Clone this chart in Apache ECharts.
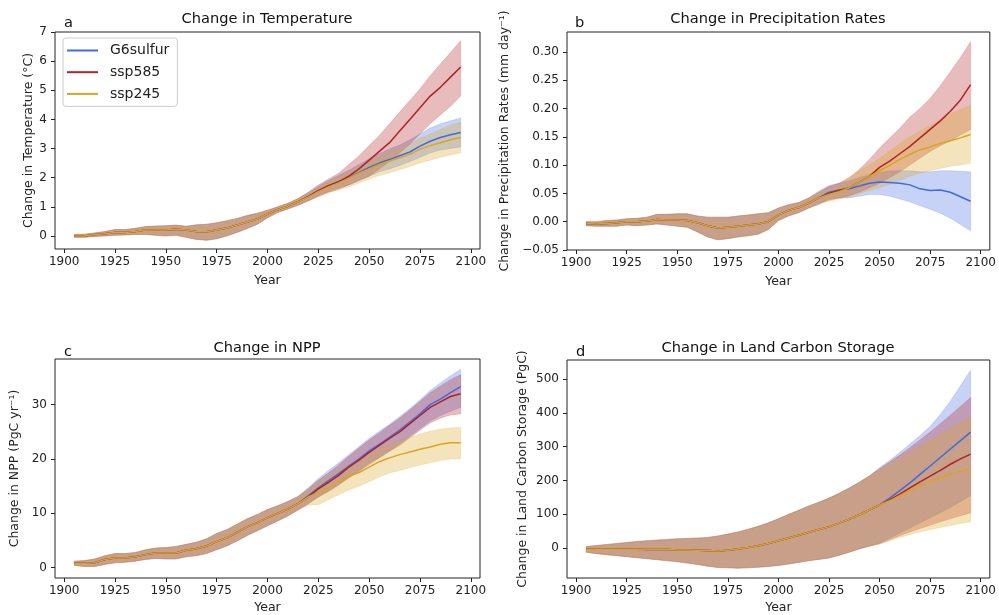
<!DOCTYPE html>
<html>
<head>
<meta charset="utf-8">
<script src="https://cdn.jsdelivr.net/npm/echarts@6/dist/echarts.min.js"></script>
<style>html,body{margin:0;padding:0;background:#fff}#c{width:999px;height:615px}</style>
</head>
<body>
<div id="c"></div>
<script>
// ---------- DATA ----------
const histYears = [1905,1910,1915,1920,1925,1930,1935,1940,1945,1950,1955,1960,1965,1970,1975,1980,1985,1990,1995,2000,2005,2010,2015];
const futYears  = [2015,2020,2025,2030,2035,2040,2045,2050,2055,2060,2065,2070,2075,2080,2085,2090,2095];
const xTicks = [1900,1925,1950,1975,2000,2025,2050,2075,2100];

// a: Temperature
const tempHistMean = [0.0,0.0,0.05,0.07,0.12,0.12,0.15,0.2,0.2,0.2,0.23,0.2,0.15,0.14,0.2,0.27,0.37,0.48,0.58,0.75,0.9,1.02,1.17];
const tempHistLo   = [-0.05,-0.05,-0.02,0.0,0.02,0.03,0.05,0.05,0.02,0.0,0.02,-0.05,-0.12,-0.15,-0.1,0.0,0.12,0.25,0.4,0.62,0.8,0.92,1.05];
const tempHistHi   = [0.05,0.06,0.1,0.15,0.22,0.22,0.26,0.32,0.34,0.35,0.37,0.33,0.38,0.4,0.45,0.52,0.6,0.7,0.78,0.88,1.0,1.12,1.28];
const tempG6Mean  = [1.17,1.35,1.55,1.72,1.87,2.0,2.18,2.35,2.5,2.62,2.75,2.88,3.08,3.25,3.38,3.47,3.55];
const tempG6Lo    = [1.05,1.2,1.38,1.52,1.65,1.75,1.9,2.05,2.2,2.3,2.42,2.55,2.7,2.85,2.95,3.0,3.05];
const tempG6Hi    = [1.28,1.48,1.7,1.9,2.08,2.25,2.45,2.65,2.82,2.98,3.12,3.3,3.5,3.7,3.85,3.95,4.05];
const temp585Mean = [1.17,1.35,1.55,1.72,1.85,2.05,2.3,2.6,2.9,3.2,3.6,4.0,4.4,4.8,5.1,5.45,5.8];
const temp585Lo   = [1.05,1.2,1.35,1.5,1.6,1.75,1.9,2.05,2.3,2.55,2.85,3.15,3.5,3.85,4.15,4.45,4.8];
const temp585Hi   = [1.28,1.5,1.75,1.95,2.15,2.45,2.75,3.1,3.45,3.85,4.25,4.65,5.05,5.5,5.9,6.3,6.7];
const temp245Mean = [1.17,1.33,1.52,1.68,1.82,1.98,2.15,2.3,2.45,2.57,2.68,2.8,2.98,3.1,3.2,3.3,3.38];
const temp245Lo   = [1.05,1.2,1.35,1.48,1.58,1.68,1.82,1.95,2.07,2.17,2.27,2.38,2.5,2.6,2.7,2.78,2.85];
const temp245Hi   = [1.28,1.46,1.68,1.86,2.02,2.2,2.38,2.55,2.72,2.88,3.02,3.15,3.35,3.5,3.65,3.8,3.9];
const tempTicks = [0,1,2,3,4,5,6,7];

// b: Precipitation
const precHistMean = [-0.003,-0.004,-0.003,-0.002,0.0,0.0,0.001,0.004,0.003,0.003,0.002,-0.002,-0.007,-0.011,-0.01,-0.008,-0.006,-0.004,0.0,0.012,0.02,0.025,0.033];
const precHistLo   = [-0.007,-0.008,-0.008,-0.008,-0.006,-0.007,-0.006,-0.004,-0.006,-0.008,-0.01,-0.018,-0.027,-0.032,-0.03,-0.027,-0.025,-0.022,-0.014,0.002,0.01,0.016,0.024];
const precHistHi   = [0.0,0.0,0.002,0.003,0.005,0.006,0.008,0.013,0.013,0.014,0.014,0.01,0.008,0.008,0.008,0.01,0.012,0.014,0.016,0.024,0.03,0.034,0.042];
const precG6Mean  = [0.033,0.042,0.052,0.056,0.058,0.063,0.068,0.07,0.069,0.068,0.065,0.058,0.055,0.056,0.052,0.044,0.036];
const precG6Lo    = [0.024,0.03,0.04,0.042,0.042,0.045,0.048,0.048,0.045,0.04,0.035,0.028,0.022,0.015,0.006,-0.005,-0.016];
const precG6Hi    = [0.042,0.054,0.064,0.068,0.072,0.078,0.083,0.087,0.09,0.09,0.09,0.088,0.088,0.09,0.09,0.089,0.088];
const prec585Mean = [0.033,0.042,0.05,0.055,0.06,0.07,0.08,0.096,0.107,0.12,0.133,0.148,0.163,0.178,0.195,0.215,0.242];
const prec585Lo   = [0.024,0.032,0.038,0.042,0.046,0.052,0.06,0.068,0.078,0.088,0.1,0.112,0.124,0.134,0.143,0.153,0.163];
const prec585Hi   = [0.042,0.052,0.062,0.068,0.078,0.092,0.11,0.13,0.148,0.165,0.185,0.2,0.218,0.24,0.265,0.29,0.318];
const prec245Mean = [0.033,0.042,0.048,0.053,0.06,0.07,0.08,0.09,0.1,0.11,0.119,0.127,0.132,0.138,0.143,0.148,0.154];
const prec245Lo   = [0.024,0.032,0.036,0.04,0.044,0.05,0.055,0.06,0.066,0.073,0.08,0.086,0.09,0.094,0.098,0.1,0.103];
const prec245Hi   = [0.042,0.052,0.06,0.066,0.076,0.09,0.1,0.112,0.125,0.138,0.15,0.16,0.17,0.18,0.19,0.198,0.205];
const precTicks = [-0.05,0,0.05,0.1,0.15,0.2,0.25,0.3];

// c: NPP
const nppHistMean = [0.8,0.8,0.9,1.5,1.8,1.8,2.0,2.4,2.7,2.7,2.7,3.2,3.5,4.0,4.8,5.5,6.5,7.5,8.3,9.2,10.0,10.8,11.8];
const nppHistLo   = [0.4,0.2,0.2,0.6,0.9,1.0,1.2,1.5,1.7,1.6,1.6,2.0,2.2,2.6,3.3,4.0,4.9,5.9,6.8,7.7,8.6,9.5,10.6];
const nppHistHi   = [1.2,1.3,1.6,2.2,2.6,2.6,2.8,3.3,3.6,3.7,3.9,4.3,4.7,5.3,6.3,7.0,8.0,9.0,9.8,10.7,11.4,12.2,13.1];
const nppG6Mean  = [11.8,13.2,14.7,16.0,17.3,18.7,20.0,21.5,22.7,24.0,25.3,26.8,28.3,30.0,31.0,32.2,33.3];
const nppG6Lo    = [10.6,11.8,13.0,14.1,15.3,16.6,17.8,19.2,20.3,21.5,22.8,24.2,25.6,27.0,28.0,28.8,29.5];
const nppG6Hi    = [13.1,14.7,16.4,17.9,19.3,20.8,22.3,23.8,25.1,26.4,27.8,29.3,30.9,32.6,34.0,35.3,36.5];
const npp585Mean = [11.8,13.0,14.5,15.7,17.0,18.5,19.8,21.2,22.5,23.8,25.0,26.5,28.0,29.5,30.5,31.5,32.0];
const npp585Lo   = [10.6,11.7,13.0,14.0,15.2,16.5,17.7,19.0,20.2,21.4,22.5,23.9,25.3,26.6,27.5,28.1,28.3];
const npp585Hi   = [13.1,14.5,16.1,17.4,18.9,20.5,22.0,23.5,24.8,26.2,27.5,29.0,30.6,32.2,33.4,34.6,35.5];
const npp245Mean = [11.8,13.0,13.8,14.8,15.8,16.8,17.5,18.5,19.5,20.2,20.8,21.3,21.8,22.2,22.7,23.0,23.0];
const npp245Lo   = [10.6,11.5,11.6,12.5,13.4,14.3,15.0,15.8,16.7,17.4,17.9,18.4,18.9,19.3,19.7,20.0,20.0];
const npp245Hi   = [13.1,14.3,15.6,16.8,17.9,19.0,19.8,20.9,21.9,22.7,23.4,24.0,24.6,25.1,25.5,25.7,25.8];
const nppTicks = [0,10,20,30];

// d: Land carbon storage
const lcsHistMean = [-3,-3,-3,-3,-3,-3,-4,-4,-4,-5,-5,-6,-7,-8,-6,-2,2,7,14,22,30,38,47];
const lcsHistLo   = [-12,-16,-19,-22,-25,-28,-31,-34,-37,-40,-44,-48,-53,-57,-58,-59,-58,-56,-54,-51,-47,-42,-37];
const lcsHistHi   = [5,8,11,14,17,20,22,24,26,28,29,30,32,36,42,48,56,65,75,87,100,112,125];
const lcsG6Mean  = [47,55,63,74,86,99,113,128,148,170,193,218,243,268,293,318,343];
const lcsG6Lo    = [-37,-33,-29,-21,-12,-2,6,15,30,45,60,75,90,105,120,138,156];
const lcsG6Hi    = [125,136,148,162,178,195,214,238,260,283,308,333,360,395,435,480,526];
const lcs585Mean = [47,55,63,74,86,99,113,128,143,160,178,196,213,230,248,264,278];
const lcs585Lo   = [-37,-33,-29,-21,-12,-2,6,13,25,37,48,58,68,78,87,96,104];
const lcs585Hi   = [125,136,148,162,178,195,214,235,255,275,297,320,343,368,393,419,445];
const lcs245Mean = [47,55,63,74,86,99,113,128,140,155,170,185,197,208,218,227,233];
const lcs245Lo   = [-37,-33,-29,-21,-12,-2,6,12,22,32,40,48,55,61,67,73,78];
const lcs245Hi   = [125,136,148,162,178,195,214,232,250,268,285,303,320,337,354,371,388];
const lcsTicks = [0,100,200,300,400,500];

const scenarioNames = ['G6sulfur','ssp585','ssp245'];

// ---------- BUILD ----------
const FONT = 'DejaVu Sans';
const COLORS = ['#4169e1','#b22222','#daa520'];
const BANDS = ['rgba(65,105,225,0.3)','rgba(178,34,34,0.3)','rgba(218,165,32,0.3)'];
const years = histYears.slice(0,-1).concat(futYears);
function join(h,f){ return h.slice(0,-1).concat(f); }

const panels = [
  {title:'Change in Temperature', letter:'a', yname:'Change in Temperature (\u00b0C)', ticks:tempTicks, min:-0.45, max:7.0, dec:0, nameGap:19, xGap:25,
   grid:{left:55,top:32,width:425,height:217},
   hist:[tempHistMean,tempHistLo,tempHistHi],
   sc:[[tempG6Mean,tempG6Lo,tempG6Hi],[temp585Mean,temp585Lo,temp585Hi],[temp245Mean,temp245Lo,temp245Hi]]},
  {title:'Change in Precipitation Rates', letter:'b', yname:'Change in Precipitation Rates (mm day\u207b\u00b9)', ticks:precTicks, min:-0.05, max:0.335, dec:2, nameGap:56, xGap:25,
   grid:{left:567,top:32,width:425,height:218},
   hist:[precHistMean,precHistLo,precHistHi],
   sc:[[precG6Mean,precG6Lo,precG6Hi],[prec585Mean,prec585Lo,prec585Hi],[prec245Mean,prec245Lo,prec245Hi]]},
  {title:'Change in NPP', letter:'c', yname:'Change in NPP (PgC yr\u207b\u00b9)', ticks:nppTicks, min:-1.9, max:38.4, dec:0, nameGap:34, xGap:23,
   grid:{left:55,top:359,width:425,height:220},
   hist:[nppHistMean,nppHistLo,nppHistHi],
   sc:[[nppG6Mean,nppG6Lo,nppG6Hi],[npp585Mean,npp585Lo,npp585Hi],[npp245Mean,npp245Lo,npp245Hi]]},
  {title:'Change in Land Carbon Storage', letter:'d', yname:'Change in Land Carbon Storage (PgC)', ticks:lcsTicks, min:-88, max:556, dec:0, nameGap:38, xGap:23,
   grid:{left:567,top:360,width:425,height:219},
   hist:[lcsHistMean,lcsHistLo,lcsHistHi],
   sc:[[lcsG6Mean,lcsG6Lo,lcsG6Hi],[lcs585Mean,lcs585Lo,lcs585Hi],[lcs245Mean,lcs245Lo,lcs245Hi]]}
];

const grids=[], xAxes=[], yAxes=[], series=[], graphics=[];
const tickStyle = {color:'#222', fontSize:12, fontFamily:FONT};

panels.forEach((p,gi)=>{
  grids.push(Object.assign({show:true, borderColor:'#222', borderWidth:1, backgroundColor:'transparent', containLabel:false}, p.grid));
  xAxes.push({type:'value', gridIndex:gi, min:1895.5, max:2104.5, name:'Year', nameLocation:'middle', nameGap:p.xGap,
    nameTextStyle:{fontSize:12.5, fontFamily:FONT, color:'#222'},
    axisLine:{show:false, onZero:false}, splitLine:{show:false},
    axisTick:{show:true, inside:false, length:4, customValues:xTicks, lineStyle:{color:'#222'}},
    axisLabel:Object.assign({margin:7, customValues:xTicks, formatter:v=>String(v)}, tickStyle)});
  yAxes.push({type:'value', gridIndex:gi, min:p.min, max:p.max, name:p.yname, nameLocation:'middle', nameGap:p.nameGap, nameRotate:90,
    nameTextStyle:{fontSize:12.5, fontFamily:FONT, color:'#222'},
    axisLine:{show:false, onZero:false}, splitLine:{show:false},
    axisTick:{show:true, inside:false, length:4, customValues:p.ticks, lineStyle:{color:'#222'}},
    axisLabel:Object.assign({margin:8, customValues:p.ticks, formatter:v=>v.toFixed(p.dec).replace('-','\u2212')}, tickStyle)});
  p.sc.forEach((s,si)=>{
    const mean=join(p.hist[0],s[0]), lo=join(p.hist[1],s[1]), hi=join(p.hist[2],s[2]);
    const rows = years.map((y,i)=>[y,lo[i],hi[i]]);
    series.push({type:'custom', xAxisIndex:gi, yAxisIndex:gi, silent:true, clip:true, data:rows,
      encode:{x:0, y:[1,2]},
      renderItem:(params,api)=>{
        if(params.dataIndex!==0) return null;
        const pts=[];
        for(let i=0;i<rows.length;i++) pts.push(api.coord([rows[i][0],rows[i][2]]));
        for(let i=rows.length-1;i>=0;i--) pts.push(api.coord([rows[i][0],rows[i][1]]));
        return {type:'polygon', shape:{points:pts}, style:{fill:BANDS[si], stroke:BANDS[si], lineWidth:0.6}};
      }});
    series.push({type:'line', name:scenarioNames[si], xAxisIndex:gi, yAxisIndex:gi, symbol:'none', showSymbol:false,
      data:years.map((y,i)=>[y,mean[i]]), lineStyle:{width:1.5, color:COLORS[si]}, itemStyle:{color:COLORS[si]},
      silent:true, animation:false});
  });
});

const titlePos = [[267,19],[778,19],[267,348],[778,348]];
const letterPos = [[64,23],[575,23],[64,352],[576,352]];
panels.forEach((p,i)=>{
  graphics.push({type:'text', x:titlePos[i][0], y:titlePos[i][1], style:{text:p.title, fill:'#111', font:'14.6px "DejaVu Sans"', textAlign:'center', textVerticalAlign:'middle'}});
  graphics.push({type:'text', x:letterPos[i][0], y:letterPos[i][1], style:{text:p.letter, fill:'#111', font:'14.6px "DejaVu Sans"', textAlign:'left', textVerticalAlign:'middle'}});
});

const chart = echarts.init(document.getElementById('c'), null, {renderer:'canvas'});
chart.setOption({
  animation:false,
  backgroundColor:'#fff',
  grid:grids, xAxis:xAxes, yAxis:yAxes, series:series, graphic:graphics,
  legend:{data:scenarioNames.map(n=>({name:n, icon:'rect'})), orient:'vertical', left:63, top:38, itemWidth:31, itemHeight:2, itemGap:7.7,
    padding:[5.5,8,5.5,4], borderColor:'#ccc', borderWidth:1, borderRadius:3, backgroundColor:'rgba(255,255,255,0.8)',
    textStyle:{fontSize:14, fontFamily:FONT, color:'#222', padding:[0,0,0,7]}, selectedMode:false}
});
</script>
</body>
</html>
